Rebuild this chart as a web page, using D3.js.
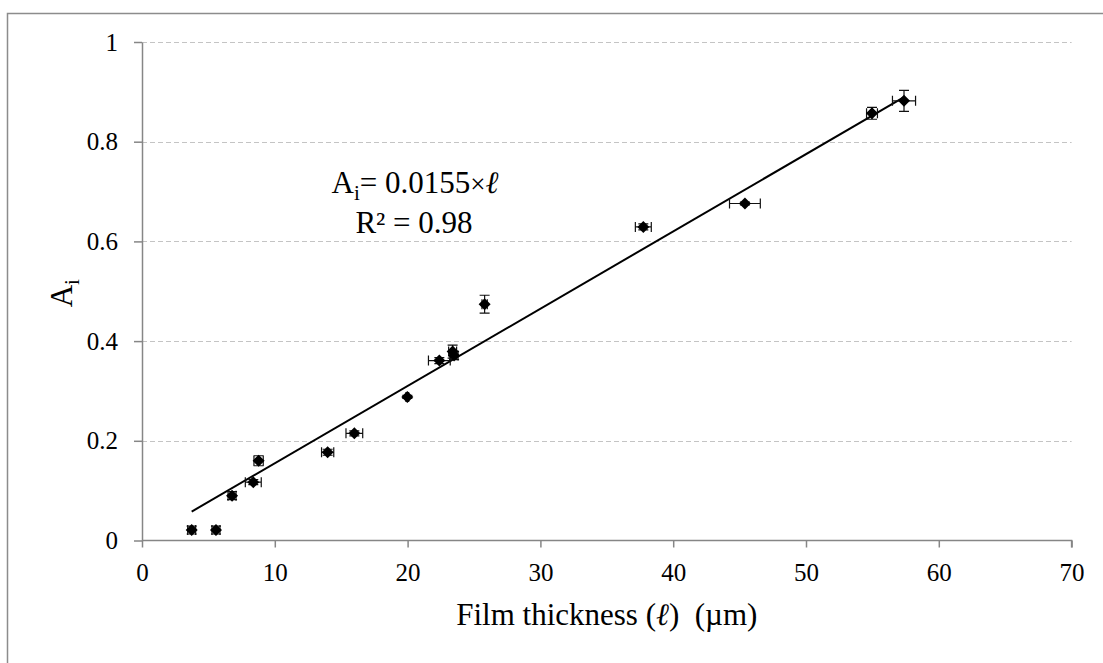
<!DOCTYPE html>
<html>
<head>
<meta charset="utf-8">
<script src="https://cdn.jsdelivr.net/npm/d3@7"></script>
<style>
  html, body { margin: 0; padding: 0; background: #fff; }
  svg { display: block; font-family: "Liberation Serif", "Times New Roman", serif; }
</style>
</head>
<body>
<svg id="chart" width="1103" height="663"></svg>
<script>
// Film thickness (µm) and absorbance A_i, with their uncertainties
const thickness  = [3.74, 5.57, 6.78, 8.38, 8.78, 13.98, 15.99, 19.98, 22.39, 23.39, 23.5, 25.8, 37.75, 45.4, 54.97, 57.38];
const absorbance = [0.021, 0.021, 0.090, 0.117, 0.160, 0.177, 0.215, 0.288, 0.361, 0.379, 0.371, 0.474, 0.629, 0.676, 0.857, 0.882];
const thicknessErr  = [0.3, 0.3, 0.3, 0.6, 0.35, 0.46, 0.63, 0.1, 0.82, 0.3, 0.3, 0.2, 0.6, 1.16, 0.41, 0.87];
const absorbanceErr = [0.008, 0.008, 0.008, 0.005, 0.01, 0.006, 0.005, 0.003, 0.006, 0.013, 0.008, 0.018, 0.006, 0.003, 0.012, 0.021];

// Linear fit through the origin
const slope = 0.0155;
const rSquared = "0.98";

const xTicks = [0, 10, 20, 30, 40, 50, 60, 70];
const yTicks = [0, 0.2, 0.4, 0.6, 0.8, 1];

const svg = d3.select("#chart");
const plot = { left: 142, right: 1071.6, top: 42, bottom: 540.5 };

const x = d3.scaleLinear().domain([0, 70]).range([plot.left, plot.right]);
const y = d3.scaleLinear().domain([0, 1]).range([plot.bottom, plot.top]);

// outer frame
svg.append("rect")
  .attr("x", 7.5).attr("y", 13.5)
  .attr("width", 1200).attr("height", 800)
  .attr("fill", "none").attr("stroke", "#8c8c8c").attr("stroke-width", 1.5);

// horizontal gridlines
svg.append("g")
  .selectAll("line")
  .data(yTicks.filter(d => d > 0))
  .join("line")
  .attr("x1", plot.left).attr("x2", plot.right)
  .attr("y1", d => Math.round(y(d)) + 0.5).attr("y2", d => Math.round(y(d)) + 0.5)
  .attr("stroke", "#c4c4c4").attr("stroke-width", 1.2)
  .attr("stroke-dasharray", "5,3");

// axes
const xAxis = d3.axisBottom(x).tickValues(xTicks).tickSize(7).tickSizeOuter(7).tickPadding(10)
  .tickFormat(d3.format("d"));
const yAxis = d3.axisLeft(y).tickValues(yTicks).tickSize(8).tickSizeOuter(0).tickPadding(16)
  .tickFormat(d => d === 0 || d === 1 ? String(d) : d3.format(".1f")(d));

const gx = svg.append("g").attr("transform", `translate(0,${plot.bottom})`).call(xAxis);
const gy = svg.append("g").attr("transform", `translate(${plot.left},0)`).call(yAxis);

[gx, gy].forEach(g => {
  g.select(".domain").attr("stroke", "#868686").attr("stroke-width", 1.5);
  g.selectAll(".tick line").attr("stroke", "#868686").attr("stroke-width", 1.5);
  g.selectAll(".tick text")
    .attr("fill", "#000")
    .style("font-family", "'Liberation Serif', 'Times New Roman', serif")
    .style("font-size", "25px");
});
gx.select(".domain").attr("d", `M${plot.left},0H${plot.right}V7`);
gx.selectAll(".tick text").attr("dy", "0.95em");

// axis titles
const xTitle = svg.append("text")
  .attr("x", (plot.left + plot.right) / 2).attr("y", 625)
  .attr("text-anchor", "middle")
  .style("font-size", "31px");
xTitle.append("tspan").text("Film thickness (");
xTitle.append("tspan").style("font-style", "italic").text("ℓ");
xTitle.append("tspan").text(")\u00a0\u00a0(µm)");

const yTitle = svg.append("text")
  .attr("transform", `translate(72,${(plot.top + plot.bottom) / 2 + 2}) rotate(-90)`)
  .attr("text-anchor", "middle")
  .style("font-size", "31px");
yTitle.append("tspan").text("A");
yTitle.append("tspan").attr("dy", 7).style("font-size", "21px").text("i");

// trendline across the data range
const xExtent = d3.extent(thickness);
svg.append("line")
  .attr("x1", x(xExtent[0])).attr("y1", y(slope * xExtent[0]))
  .attr("x2", x(xExtent[1])).attr("y2", y(slope * xExtent[1]))
  .attr("stroke", "#000").attr("stroke-width", 2);

const points = thickness.map((t, i) => ({
  x: t, y: absorbance[i], ex: thicknessErr[i], ey: absorbanceErr[i]
}));

// error bars
const cap = 5;
const err = svg.append("g").attr("stroke", "#111").attr("stroke-width", 1.2).attr("fill", "none");
points.forEach(p => {
  const cx = x(p.x), cy = y(p.y);
  const x0 = x(p.x - p.ex), x1 = x(p.x + p.ex);
  const y0 = y(p.y - p.ey), y1 = y(p.y + p.ey);
  err.append("path").attr("d",
    `M${x0},${cy}H${x1}M${x0},${cy - cap}V${cy + cap}M${x1},${cy - cap}V${cy + cap}`);
  err.append("path").attr("d",
    `M${cx},${y0}V${y1}M${cx - cap},${y0}H${cx + cap}M${cx - cap},${y1}H${cx + cap}`);
});

// diamond markers
svg.append("g")
  .selectAll("path")
  .data(points)
  .join("path")
  .attr("transform", d => `translate(${x(d.x)},${y(d.y)}) rotate(45)`)
  .attr("d", d3.symbol().type(d3.symbolSquare).size(72))
  .attr("fill", "#000");

// fit equation
const eq = svg.append("g").style("font-size", "31px").attr("text-anchor", "middle");
const l1 = eq.append("text").attr("x", 415).attr("y", 193);
l1.append("tspan").text("A");
l1.append("tspan").attr("dy", 7).style("font-size", "21px").text("i");
l1.append("tspan").attr("dy", -7).text("= 0.0155");
l1.append("tspan").style("font-size", "27px").text("×");
l1.append("tspan").style("font-style", "italic").text("ℓ");
eq.append("text").attr("x", 414).attr("y", 233).text(`R² = ${rSquared}`);
</script>
</body>
</html>
